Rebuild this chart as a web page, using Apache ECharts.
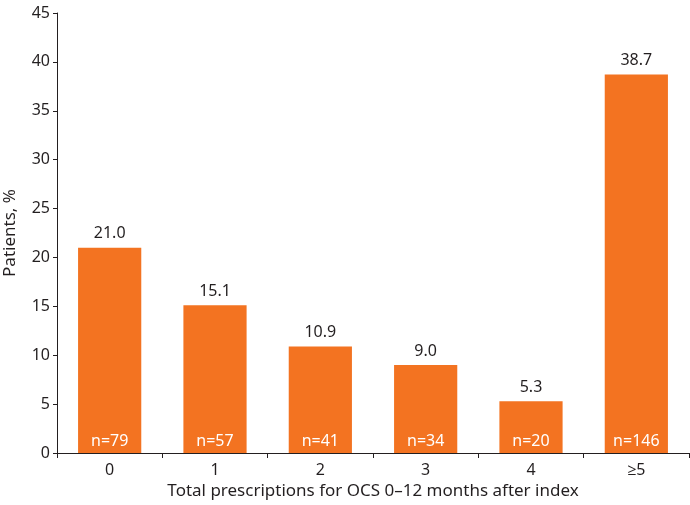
<!DOCTYPE html>
<html><head><meta charset="utf-8">
<script src="https://cdn.jsdelivr.net/npm/echarts@6/dist/echarts.min.js"></script>
<style>html,body{margin:0;padding:0;background:#fff}#c{width:690px;height:505px}</style>
</head><body><div id="c"></div>
<script>
const categories = ['0','1','2','3','4','≥5'];
const percentValues = [21.0, 15.1, 10.9, 9.0, 5.3, 38.7];
const nCounts = [79, 57, 41, 34, 20, 146];
const yTicks = {min: 0, max: 45, interval: 5};

const font = '"Source Sans Pro","Noto Sans","Open Sans",sans-serif';
const txt = '#231f20';
const chart = echarts.init(document.getElementById('c'));
chart.setOption({
  animation: false,
  grid: {left: 57, right: 1, top: 13, bottom: 52, containLabel: false, outerBoundsMode: 'none'},
  xAxis: {
    type: 'category', data: categories,
    axisLine: {lineStyle: {color: txt, width: 1}},
    axisTick: {show: true, length: 5, lineStyle: {color: txt}},
    axisLabel: {color: txt, fontSize: 16, fontFamily: font, margin: 9},
    name: 'Total prescriptions for OCS 0–12 months after index',
    nameLocation: 'middle', nameGap: 30,
    nameTextStyle: {color: txt, fontSize: 17, fontFamily: font}
  },
  yAxis: {
    type: 'value', min: yTicks.min, max: yTicks.max, interval: yTicks.interval,
    axisLine: {show: true, lineStyle: {color: txt, width: 1}},
    axisTick: {show: true, length: 4, lineStyle: {color: txt}},
    splitLine: {show: false},
    axisLabel: {color: txt, fontSize: 16, fontFamily: font, margin: 7},
    name: 'Patients, %', nameLocation: 'middle', nameGap: 38,
    nameTextStyle: {color: txt, fontSize: 17, fontFamily: font}
  },
  series: [
    {
      type: 'bar', data: percentValues, barWidth: '60%',
      itemStyle: {color: '#f37321'},
      label: {show: true, position: 'top', distance: 6, color: txt, fontSize: 16, fontFamily: font,
        formatter: p => p.value.toFixed(1)}
    },
    {
      type: 'bar', data: percentValues, barWidth: '60%', barGap: '-100%',
      itemStyle: {color: 'rgba(0,0,0,0)'}, silent: true,
      label: {show: true, position: 'insideBottom', distance: 4, color: '#ffffff', fontSize: 16, fontFamily: font,
        formatter: p => 'n=' + nCounts[p.dataIndex]}
    }
  ]
});
</script></body></html>
